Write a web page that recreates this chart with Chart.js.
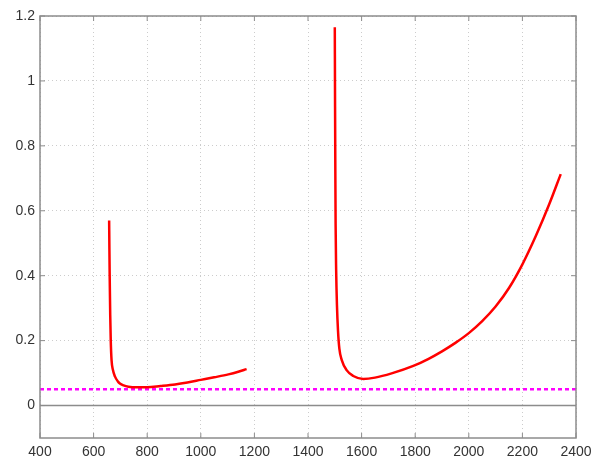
<!DOCTYPE html>
<html>
<head>
<meta charset="utf-8">
<script src="https://cdn.jsdelivr.net/npm/chart.js@4"></script>
<style>
  body { margin: 0; background: #fff; }
</style>
</head>
<body>
<canvas id="chart" width="591" height="461"></canvas>
<script>
// first branch (red)
var x1 = [658, 659, 660, 662, 664, 667, 672, 680, 690, 698, 712, 730, 760, 800, 850, 904, 950, 1000, 1050, 1103, 1140, 1171];
var y1 = [0.57, 0.48, 0.40, 0.28, 0.20, 0.14, 0.11, 0.089, 0.075, 0.068, 0.062, 0.058, 0.056, 0.056, 0.060, 0.065, 0.071, 0.079, 0.087, 0.096, 0.104, 0.112];

// second branch (red)
var x2 = [1500, 1501, 1502, 1503, 1505, 1508, 1512, 1517, 1526, 1544, 1569, 1606, 1650, 1712, 1793, 1850, 1900, 1950, 2000, 2050, 2100, 2150, 2200, 2250, 2300, 2343];
var y2 = [1.165, 0.92, 0.72, 0.56, 0.42, 0.31, 0.23, 0.175, 0.14, 0.109, 0.091, 0.082, 0.086, 0.099, 0.122, 0.144, 0.167, 0.193, 0.223, 0.26, 0.305, 0.362, 0.435, 0.522, 0.62, 0.713];

// reference levels
var levelX = [400, 2400];
var limitY = [0.05, 0.05];
var zeroY = [0, 0];

var xTicks = [400, 600, 800, 1000, 1200, 1400, 1600, 1800, 2000, 2200, 2400];
var xTickLabels = ['400', '600', '800', '1000', '1200', '1400', '1600', '1800', '2000', '2200', '2400'];
var yTicks = [0, 0.2, 0.4, 0.6, 0.8, 1, 1.2];
var yTickLabels = ['0', '0.2', '0.4', '0.6', '0.8', '1', '1.2'];

function pts(xs, ys) {
  return xs.map(function (x, i) { return { x: x, y: ys[i] }; });
}

// box + inward tick marks like matlab axes
var boxPlugin = {
  id: 'box',
  afterDraw: function (chart) {
    var ctx = chart.ctx, a = chart.chartArea;
    var sx = chart.scales.x, sy = chart.scales.y;
    ctx.save();
    ctx.strokeStyle = '#8c8c8c';
    ctx.lineWidth = 1.5;
    ctx.strokeRect(a.left, a.top, a.right - a.left, a.bottom - a.top);
    ctx.lineWidth = 1;
    ctx.beginPath();
    xTicks.forEach(function (v) {
      var px = sx.getPixelForValue(v);
      ctx.moveTo(px, a.bottom); ctx.lineTo(px, a.bottom - 5);
      ctx.moveTo(px, a.top); ctx.lineTo(px, a.top + 5);
    });
    yTicks.forEach(function (v) {
      var py = sy.getPixelForValue(v);
      ctx.moveTo(a.left, py); ctx.lineTo(a.left + 5, py);
      ctx.moveTo(a.right, py); ctx.lineTo(a.right - 5, py);
    });
    ctx.stroke();
    ctx.restore();
  }
};

var font = { family: '"Liberation Sans", Arial, sans-serif', size: 14 };

new Chart(document.getElementById('chart'), {
  type: 'scatter',
  data: {
    datasets: [{
      data: pts(x1, y1),
      showLine: true,
      borderColor: '#ff0000',
      borderWidth: 2.5,
      pointRadius: 0,
      cubicInterpolationMode: 'monotone'
    }, {
      data: pts(x2, y2),
      showLine: true,
      borderColor: '#ff0000',
      borderWidth: 2.5,
      pointRadius: 0,
      cubicInterpolationMode: 'monotone'
    }, {
      data: pts(levelX, limitY),
      showLine: true,
      borderColor: '#ff00ff',
      borderWidth: 2.5,
      borderDash: [4, 3],
      pointRadius: 0
    }, {
      data: pts(levelX, zeroY),
      showLine: true,
      borderColor: '#8c8c8c',
      borderWidth: 1.5,
      pointRadius: 0
    }]
  },
  options: {
    responsive: false,
    animation: false,
    layout: { padding: { top: 16, right: 15, left: 0, bottom: 0 } },
    plugins: {
      legend: { display: false },
      tooltip: { enabled: false }
    },
    scales: {
      x: {
        type: 'linear',
        min: 400,
        max: 2400,
        afterBuildTicks: function (scale) {
          scale.ticks = xTicks.map(function (v) { return { value: v }; });
        },
        afterFit: function (scale) {
          scale.height = 23;
          scale.paddingLeft = 0;
          scale.paddingRight = 0;
        },
        ticks: {
          font: font,
          color: '#333',
          padding: 6,
          maxRotation: 0,
          autoSkip: false,
          callback: function (v, i) { return xTickLabels[i]; }
        },
        grid: { color: '#cccccc', drawTicks: false },
        border: { display: false, dash: [1, 3] }
      },
      y: {
        type: 'linear',
        min: -0.1,
        max: 1.2,
        afterBuildTicks: function (scale) {
          scale.ticks = yTicks.map(function (v) { return { value: v }; });
        },
        afterFit: function (scale) {
          scale.width = 40;
        },
        ticks: {
          font: font,
          color: '#333',
          padding: 5,
          autoSkip: false,
          callback: function (v, i) { return yTickLabels[i]; }
        },
        grid: { color: '#cccccc', drawTicks: false },
        border: { display: false, dash: [1, 3] }
      }
    }
  },
  plugins: [boxPlugin]
});
</script>
</body>
</html>
